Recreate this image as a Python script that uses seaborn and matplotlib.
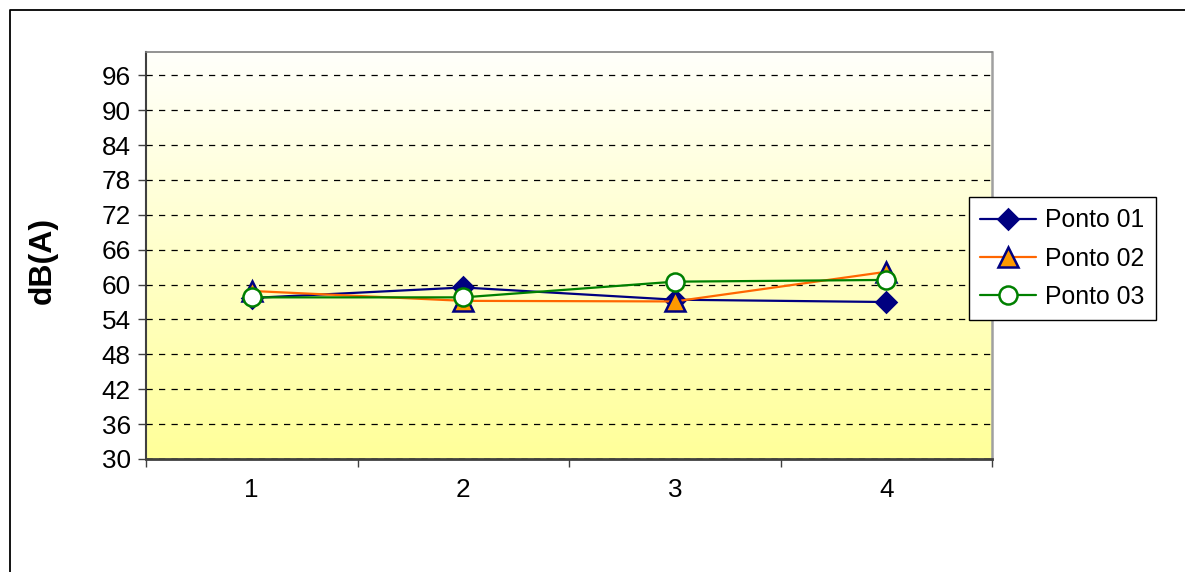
import numpy as np
import pandas as pd
import matplotlib
matplotlib.use("Agg")
import matplotlib.pyplot as plt
from matplotlib.lines import Line2D
import seaborn as sns

# Measurement campaigns (x) and sound levels per monitoring point, dB(A)
campaigns = [1, 2, 3, 4]
ponto_01 = [57.7, 59.5, 57.4, 57.0]
ponto_02 = [58.9, 57.2, 57.1, 62.2]
ponto_03 = [57.8, 57.8, 60.5, 60.8]
series_names = ["Ponto 01", "Ponto 02", "Ponto 03"]
y_ticks = list(range(30, 97, 6))

df = pd.DataFrame({
    "campanha": campaigns * 3,
    "nivel": ponto_01 + ponto_02 + ponto_03,
    "ponto": sum([[n] * len(campaigns) for n in series_names], []),
})

sns.set_theme(style="white")
plt.rcParams["font.family"] = ["Liberation Sans", "DejaVu Sans"]
plt.rcParams["text.color"] = "black"
plt.rcParams["xtick.labelcolor"] = "black"
plt.rcParams["ytick.labelcolor"] = "black"

fig = plt.figure(figsize=(11.85, 5.72), dpi=100)
ax = fig.add_axes([146 / 1185, 1 - 459 / 572, 846 / 1185, 407 / 572])

# vertical white-to-yellow fill of the plot area
grad = np.linspace(0, 1, 256).reshape(-1, 1)
top = np.array([1.0, 1.0, 0.985])
bottom = np.array([1.0, 1.0, 0.60])
img = top + (bottom - top) * grad[:, :, None]
ax.imshow(img, extent=[0, 1, 0, 1], transform=ax.transAxes, aspect="auto",
          zorder=0, interpolation="bicubic")

styles = {
    "Ponto 01": dict(color="#000080", marker="D", markersize=10.5,
                     markerfacecolor="#000080", markeredgecolor="#000080"),
    "Ponto 02": dict(color="#FF6600", marker="^", markersize=14,
                     markerfacecolor="#FF9900", markeredgecolor="#000080"),
    "Ponto 03": dict(color="#008000", marker="o", markersize=13,
                     markerfacecolor="white", markeredgecolor="#008000"),
}
for name in series_names:
    sub = df[df["ponto"] == name]
    sns.lineplot(data=sub, x="campanha", y="nivel", ax=ax, label=name,
                 linewidth=1.6, markeredgewidth=1.8, zorder=3, **styles[name])

ax.set_xlim(0.5, 4.5)
ax.set_ylim(30, 100)
ax.set_yticks(y_ticks)
ax.set_yticklabels([str(v) for v in y_ticks])
ax.set_xticks(campaigns)
ax.set_xticklabels([str(c) for c in campaigns])
ax.set_xticks([0.5, 1.5, 2.5, 3.5, 4.5], minor=True)
ax.set_xlabel("")
ax.set_ylabel("")

ax.yaxis.grid(True, color="black", linestyle=(0, (5, 5)), linewidth=0.9)
ax.xaxis.grid(False)
ax.set_axisbelow(False)
for gl in ax.get_ygridlines():
    gl.set_zorder(1)

ax.tick_params(axis="y", which="major", direction="out", length=6, width=1,
               color="#404040", pad=5, labelsize=18.8, left=True)
ax.tick_params(axis="x", which="major", length=0, pad=14, labelsize=18.8)
ax.tick_params(axis="x", which="minor", direction="out", length=6, width=1,
               color="#404040", bottom=True)

ax.spines["left"].set_color("#404040")
ax.spines["bottom"].set_color("#404040")
ax.spines["left"].set_linewidth(1.5)
ax.spines["bottom"].set_linewidth(2)
ax.spines["top"].set_color("#808080")
ax.spines["right"].set_color("#a0a0a0")
ax.spines["top"].set_linewidth(1.2)
ax.spines["right"].set_linewidth(1.8)

fig.text(43 / 1185, 1 - 260 / 572, "dB(A)", rotation=90, ha="center",
         va="center", fontsize=23, fontweight="bold", color="black")

leg = ax.legend(loc="upper left", bbox_to_anchor=(969 / 1185, 1 - 197 / 572),
                bbox_transform=fig.transFigure, borderaxespad=0,
                fontsize=17.8, frameon=True, fancybox=False, framealpha=1,
                handlelength=2.25, handletextpad=0.37, labelspacing=0.58,
                borderpad=0.46)
leg.get_frame().set_edgecolor("black")
leg.get_frame().set_linewidth(1)

# chart border (left and top edges)
fig.add_artist(Line2D([10 / 1185, 10 / 1185, 1.0], [0.0, 1 - 10 / 572, 1 - 10 / 572],
                      transform=fig.transFigure, color="black", linewidth=1.3))

fig.savefig("out.png", dpi=100, facecolor="white")
